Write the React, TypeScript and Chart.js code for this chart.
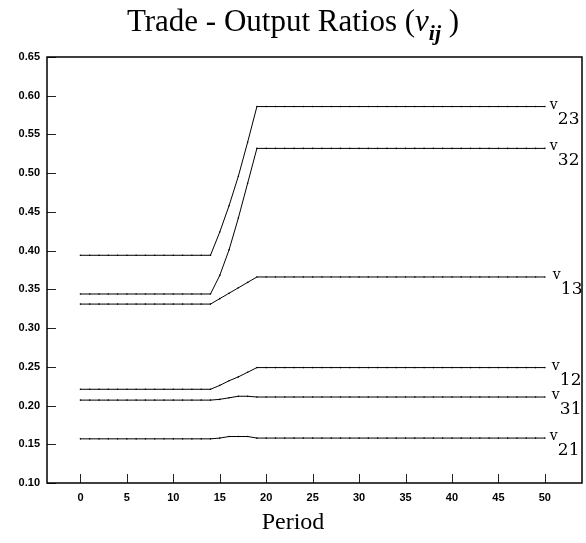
import React, { useEffect, useRef } from "react";
import { Chart, registerables } from "chart.js";

Chart.register(...registerables);

const periods: number[] = Array.from({ length: 51 }, (_, i) => i);

// Values for periods 14..19 (transition); flat before and after
const v23Path = [0.394, 0.424, 0.458, 0.496, 0.54, 0.586];
const v32Path = [0.344, 0.368, 0.401, 0.442, 0.487, 0.532];
const v13Path = [0.331, 0.338, 0.345, 0.352, 0.359, 0.366];
const v12Path = [0.221, 0.226, 0.232, 0.237, 0.243, 0.249];
const v31Path = [0.207, 0.208, 0.21, 0.212, 0.212, 0.211];
const v21Path = [0.157, 0.158, 0.16, 0.16, 0.16, 0.158];

const transitionStart = 14;

const seriesNames = ["23", "32", "13", "12", "31", "21"];
const seriesPaths = [v23Path, v32Path, v13Path, v12Path, v31Path, v21Path];

const xTickValues = [0, 5, 10, 15, 20, 25, 30, 35, 40, 45, 50];
const yTickValues = [0.1, 0.15, 0.2, 0.25, 0.3, 0.35, 0.4, 0.45, 0.5, 0.55, 0.6, 0.65];

function expand(path: number[]): number[] {
  return periods.map((p) => {
    if (p <= transitionStart) return path[0];
    const k = p - transitionStart;
    if (k < path.length) return path[k];
    return path[path.length - 1];
  });
}

const labelOffsets: Record<string, number> = {
  "23": 0,
  "32": 0,
  "13": 3,
  "12": 2,
  "31": 2,
  "21": 0,
};

const decorPlugin = {
  id: "decor",
  afterDraw(chart: any) {
    const { ctx, chartArea } = chart;
    const xs = chart.scales.x;
    const ys = chart.scales.y;
    ctx.save();
    // inside ticks
    ctx.strokeStyle = "#222";
    ctx.lineWidth = 1;
    xTickValues.forEach((v) => {
      const x = Math.round(xs.getPixelForValue(v)) + 0.5;
      ctx.beginPath();
      ctx.moveTo(x, chartArea.bottom);
      ctx.lineTo(x, chartArea.bottom - 9);
      ctx.stroke();
    });
    yTickValues.forEach((v) => {
      const y = Math.round(ys.getPixelForValue(v)) + 0.5;
      ctx.beginPath();
      ctx.moveTo(chartArea.left, y);
      ctx.lineTo(chartArea.left + 9, y);
      ctx.stroke();
    });

    // series labels
    ctx.fillStyle = "#000";
    ctx.textBaseline = "alphabetic";
    ctx.textAlign = "left";
    seriesNames.forEach((name, i) => {
      const path = seriesPaths[i];
      const y = ys.getPixelForValue(path[path.length - 1]);
      const xv = xs.getPixelForValue(50) + 5 + labelOffsets[name];
      ctx.font = "14px 'DejaVu Serif'";
      ctx.fillText("v", xv, y + 2);
      ctx.font = "17px 'DejaVu Serif'";
      ctx.fillText(name, xv + 8, y + 17);
    });

    // frame
    ctx.strokeStyle = "#000";
    ctx.lineWidth = 1.5;
    ctx.strokeRect(chartArea.left, chartArea.top, chartArea.right - chartArea.left, chartArea.bottom - chartArea.top);

    // title
    const parts = [
      { t: "Trade - Output Ratios (", f: "31px 'Liberation Serif'", dy: 0 },
      { t: "v", f: "italic 31px 'Liberation Serif'", dy: 0 },
      { t: "ij", f: "bold italic 22px 'Liberation Serif'", dy: 9 },
      { t: " )", f: "31px 'Liberation Serif'", dy: 0 },
    ];
    let total = 0;
    parts.forEach((p) => {
      ctx.font = p.f;
      total += ctx.measureText(p.t).width;
    });
    let x = 293 - total / 2;
    const base = 31;
    parts.forEach((p) => {
      ctx.font = p.f;
      ctx.fillText(p.t, x, base + p.dy);
      x += ctx.measureText(p.t).width;
    });

    // x axis title
    ctx.font = "24px 'Liberation Serif'";
    ctx.textAlign = "center";
    ctx.fillText("Period", 293, 529);
    ctx.restore();
  },
};

export default function App() {
  const ref = useRef<HTMLCanvasElement | null>(null);
  useEffect(() => {
    if (!ref.current) return;
    const datasets = seriesPaths.map((path, i) => ({
      label: "v" + seriesNames[i],
      data: expand(path).map((v, j) => ({ x: periods[j], y: v })),
      borderColor: "#000",
      borderWidth: 1,
      pointRadius: 0.8,
      pointBorderWidth: 0,
      pointBackgroundColor: "#000",
      tension: 0,
    }));
    const chart = new Chart(ref.current, {
      type: "line",
      data: { datasets },
      plugins: [decorPlugin],
      options: {
        animation: false,
        responsive: false,
        layout: { padding: { top: 57, right: 3, left: 0, bottom: 0 } },
        plugins: { legend: { display: false }, tooltip: { enabled: false }, title: { display: false } },
        scales: {
          x: {
            type: "linear",
            min: -3.6,
            max: 54,
            afterFit: (s: any) => {
              s.height = 60;
            },
            afterBuildTicks: (s: any) => {
              s.ticks = xTickValues.map((v) => ({ value: v }));
            },
            grid: { display: false, drawTicks: false },
            border: { display: false },
            ticks: {
              padding: 8,
              color: "#000",
              font: { family: "'Liberation Sans'", size: 11, weight: "bold" },
              maxRotation: 0,
              autoSkip: false,
              callback: (v: any) => String(v),
            },
          },
          y: {
            type: "linear",
            min: 0.1,
            max: 0.65,
            afterFit: (s: any) => {
              s.width = 47;
            },
            afterBuildTicks: (s: any) => {
              s.ticks = yTickValues.map((v) => ({ value: v }));
            },
            grid: { display: false, drawTicks: false },
            border: { display: false },
            ticks: {
              padding: 7,
              color: "#000",
              font: { family: "'Liberation Sans'", size: 11, weight: "bold" },
              autoSkip: false,
              callback: (v: any) => Number(v).toFixed(2),
            },
          },
        },
      },
    });
    return () => chart.destroy();
  }, []);
  return (
    <div style={{ position: "absolute", left: 0, top: 0, width: 586, height: 543, background: "#fff" }}>
      <canvas ref={ref} width={586} height={543} style={{ display: "block" }} />
    </div>
  );
}
